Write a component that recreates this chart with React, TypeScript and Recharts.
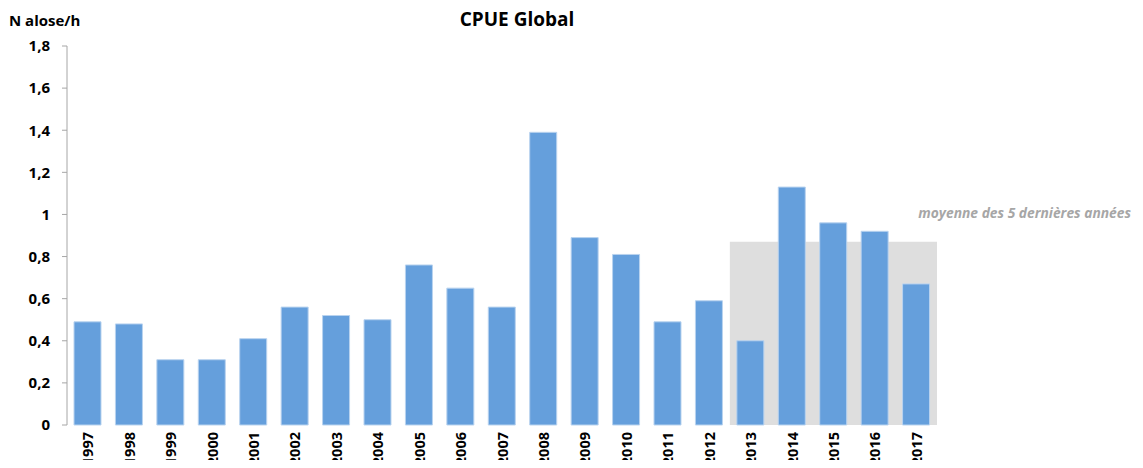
import { BarChart, Bar, XAxis, YAxis, ReferenceArea } from "recharts"

const years = [
  "1997", "1998", "1999", "2000", "2001", "2002", "2003", "2004", "2005", "2006", "2007",
  "2008", "2009", "2010", "2011", "2012", "2013", "2014", "2015", "2016", "2017",
]
const cpue = [
  0.49, 0.48, 0.31, 0.31, 0.41, 0.56, 0.52, 0.5, 0.76, 0.65, 0.56,
  1.39, 0.89, 0.81, 0.49, 0.59, 0.4, 1.13, 0.96, 0.92, 0.67,
]
const yTicks = [0, 0.2, 0.4, 0.6, 0.8, 1, 1.2, 1.4, 1.6, 1.8]
const lastFiveStart = "2013"
const lastFiveMean = 0.87

const FONT = "'Open Sans', sans-serif"
const AXIS_GREY = "#a6a6a6"
const BAR_BLUE = "#659fdc"

const data = years.map((year, i) => ({ year, cpue: cpue[i], pos: i + 0.5 }))
const boundaryTicks = years.map((_, i) => i).concat(years.length)

function YearTick({ x, y, payload }: { x: number; y: number; payload: { value: string } }) {
  const ty = y + 7
  return (
    <text
      x={x}
      y={ty}
      transform={`rotate(-90, ${x}, ${ty})`}
      textAnchor="end"
      dominantBaseline="central"
      fontFamily={FONT}
      fontWeight={700}
      fontSize={14.5}
      fill="#000"
    >
      {payload.value}
    </text>
  )
}

function MeanLabel({ viewBox }: { viewBox?: { x: number; y: number; width: number } }) {
  if (!viewBox) return null
  return (
    <text
      x={viewBox.x + viewBox.width + 194}
      y={viewBox.y - 29}
      textAnchor="end"
      dominantBaseline="central"
      fontFamily={FONT}
      fontStyle="italic"
      fontWeight={700}
      fontSize={13.8}
      fill="#a6a6a6"
    >
      moyenne des 5 dernières années
    </text>
  )
}

export default function App() {
  const startIdx = years.indexOf(lastFiveStart)
  return (
    <div style={{ position: "relative", width: 1143, height: 468, margin: -8, background: "#fff", overflow: "hidden" }}>
      <div
        style={{
          position: "absolute",
          left: 417,
          width: 200,
          top: 6,
          textAlign: "center",
          fontFamily: FONT,
          fontWeight: 700,
          fontSize: 19,
        }}
      >
        CPUE Global
      </div>
      <div
        style={{
          position: "absolute",
          left: 9,
          top: 10,
          fontFamily: FONT,
          fontWeight: 700,
          fontSize: 15,
        }}
      >
        N alose/h
      </div>
      <BarChart
        width={1143}
        height={468}
        data={data}
        margin={{ top: 46, right: 206, bottom: 0, left: 0 }}
      >
        <XAxis
          xAxisId="num"
          type="number"
          dataKey="pos"
          domain={[0, years.length]}
          ticks={boundaryTicks}
          allowDataOverflow
          height={6}
          stroke={AXIS_GREY}
          tickSize={5}
          tickFormatter={() => ""}
          interval={0}
        />
        <XAxis
          xAxisId="cat"
          dataKey="year"
          height={37}
          axisLine={false}
          tickLine={false}
          tickSize={0}
          tickMargin={0}
          interval={0}
          tick={(props: any) => <YearTick {...props} />}
        />
        <YAxis
          domain={[0, 1.8]}
          ticks={yTicks}
          width={67}
          stroke={AXIS_GREY}
          tickSize={5}
          tickMargin={12}
          interval={0}
          tick={{ fontFamily: FONT, fontWeight: 700, fontSize: 15, fill: "#000" }}
          tickFormatter={(v: number) => String(v).replace(".", ",")}
        />
        <ReferenceArea
          xAxisId="num"
          x1={startIdx}
          x2={years.length}
          y1={0}
          y2={lastFiveMean}
          fill="#dedede"
          fillOpacity={1}
          stroke="none"
          label={<MeanLabel />}
        />
        <Bar
          xAxisId="cat"
          dataKey="cpue"
          barSize={27}
          fill={BAR_BLUE}
          stroke="#b9d3ef"
          strokeWidth={1}
          isAnimationActive={false}
        />
      </BarChart>
    </div>
  )
}
